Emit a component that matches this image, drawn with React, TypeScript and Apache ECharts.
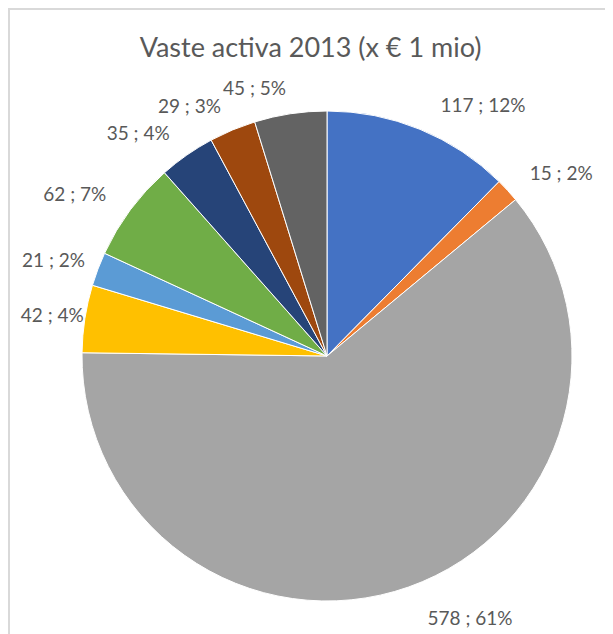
import React, { useEffect, useRef } from "react";
import * as echarts from "echarts";

const categories = ["A", "B", "C", "D", "E", "F", "G", "H", "I"];
const values = [117, 15, 578, 42, 21, 62, 35, 29, 45];
const colors = ["#4472C4", "#ED7D31", "#A5A5A5", "#FFC000", "#5B9BD5", "#70AD47", "#264478", "#9E480E", "#636363"];
const titleText = "Vaste activa 2013 (x € 1 mio)";

const CX = 319;
const CY = 348;
const R = 245;

export default function App() {
  const ref = useRef<HTMLDivElement>(null);
  useEffect(() => {
    if (!ref.current) return;
    const total = values.reduce((s, v) => s + v, 0);
    const mids: number[] = [];
    let acc = 0;
    values.forEach((v) => {
      mids.push(((acc + v / 2) / total) * 2 * Math.PI);
      acc += v;
    });
    const chart = echarts.init(ref.current, null, { renderer: "svg" });
    chart.setOption({
      animation: false,
      backgroundColor: "#ffffff",
      title: {
        text: titleText,
        left: "center",
        top: 20,
        textStyle: { fontFamily: "Lato", fontSize: 27, fontWeight: "normal", color: "#595959" },
      },
      graphic: [
        { type: "line", shape: { x1: 1, y1: 1, x2: 1, y2: 700 }, style: { stroke: "#d9d9d9", lineWidth: 2 } },
        { type: "line", shape: { x1: 0, y1: 1, x2: 700, y2: 1 }, style: { stroke: "#d9d9d9", lineWidth: 2 } },
      ],
      series: [
        {
          type: "pie",
          center: [CX, CY],
          radius: R,
          startAngle: 90,
          clockwise: true,
          avoidLabelOverlap: false,
          itemStyle: { borderColor: "#ffffff", borderWidth: 1 },
          label: {
            show: true,
            position: "outside",
            fontFamily: "Lato",
            fontSize: 19,
            color: "#595959",
            formatter: (p: any) => `${p.value} ; ${Math.round(p.percent)}%`,
          },
          labelLine: { show: false, length: 14, length2: 6 },
          labelLayout: (p: any) => {
            const a = mids[p.dataIndex];
            const ux = Math.sin(a);
            const uy = -Math.cos(a);
            const hw = p.labelRect.width / 2;
            const f = Math.min(1, Math.max(0, (1 - Math.abs(ux)) * 8));
            return {
              x: CX + ux * (R + 30) + Math.sign(ux) * hw * f + (ux > 0 && Math.abs(uy) > 0.9 ? 9 : 0),
              y: CY + uy * (R + (uy > 0 ? 32 : 27)),
              align: "center",
              verticalAlign: "middle",
            };
          },
          data: categories.map((c, i) => ({ name: c, value: values[i], itemStyle: { color: colors[i] } })),
        },
      ],
    });
    return () => chart.dispose();
  }, []);
  return <div ref={ref} style={{ width: 605, height: 626 }} />;
}
